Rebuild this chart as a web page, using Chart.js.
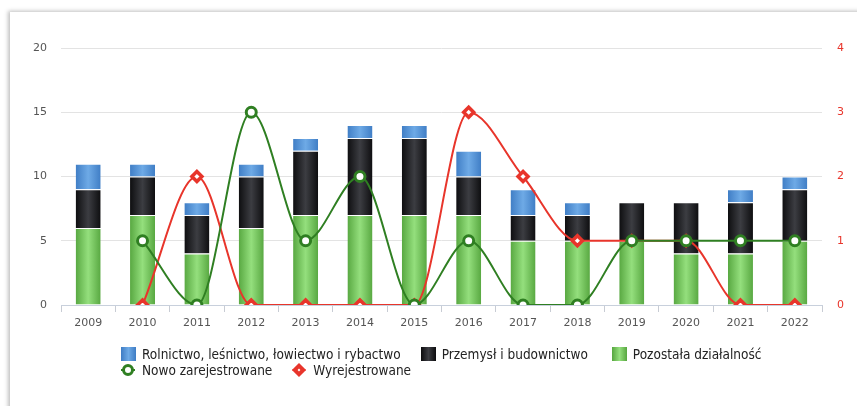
<!DOCTYPE html>
<html lang="pl">
<head>
<meta charset="utf-8">
<script src="https://cdn.jsdelivr.net/npm/chart.js@4.4.1/dist/chart.umd.min.js"></script>
<style>
    html, body { margin: 0; padding: 0; background: #fff; }
    #wrap { position: relative; width: 857px; height: 406px; overflow: hidden; }
    #card {
        position: absolute; left: 10px; top: 12px; width: 900px; height: 420px;
        background: #fff;
        box-shadow: -2px -1px 4px rgba(0,0,0,0.25);
    }
    #graph { position: absolute; left: 0; top: 0; }
    #legend {
        position: absolute; left: 121px; top: 346px;
        font-family: "DejaVu Sans Condensed", "DejaVu Sans", sans-serif;
        font-size: 13.5px; color: #222;
    }
    .row { display: flex; height: 16px; align-items: center; }
    .item { display: flex; align-items: center; }
    .box { width: 15px; height: 14px; margin-right: 6px; box-sizing: border-box; }
    .mk { width: 14px; height: 14px; margin-right: 7px; position: relative; }
    .mk .ln { position: absolute; left: 0; right: 0; top: 6px; height: 2px; }
    .mk .dot { position: absolute; box-sizing: border-box; background: #fff; }
</style>
</head>
<body>
<div id="wrap">
    <div id="card"></div>
    <canvas id="graph" width="857" height="406"></canvas>
    <div id="legend"></div>
</div>
<script>
const years = ['2009', '2010', '2011', '2012', '2013', '2014', '2015', '2016', '2017', '2018', '2019', '2020', '2021', '2022'];

// stacked bars (left axis)
const rolnictwo = [2, 1, 1, 1, 1, 1, 1, 2, 2, 1, 0, 0, 1, 1];
const przemysl = [3, 3, 3, 4, 5, 6, 6, 3, 2, 2, 3, 4, 4, 4];
const pozostala = [6, 7, 4, 6, 7, 7, 7, 7, 5, 5, 5, 4, 4, 5];

// lines (right axis)
const nowo = [null, 1, 0, 3, 1, 2, 0, 1, 0, 0, 1, 1, 1, 1];
const wyrejestrowane = [null, 0, 2, 0, 0, 0, 0, 3, 2, 1, 1, 1, 0, 0];

const leftTicks = [0, 5, 10, 15, 20];
const rightTicks = [0, 1, 2, 3, 4];

const GREEN_LINE = '#2f7f22';
const RED_LINE = '#e8352b';

function barGradient(edge, mid) {
    return (context) => {
        const chart = context.chart;
        const x = chart.scales.x;
        if (!chart.chartArea || !x || context.dataIndex === undefined) return mid;
        const cx = x.getPixelForValue(context.dataIndex);
        const g = chart.ctx.createLinearGradient(cx - 13, 0, cx + 13, 0);
        g.addColorStop(0, edge);
        g.addColorStop(0.5, mid);
        g.addColorStop(1, edge);
        return g;
    };
}

const ctx = document.getElementById('graph').getContext('2d');

const barCommon = {
    type: 'bar',
    yAxisID: 'y',
    stack: 'a',
    order: 2,
    barPercentage: 0.46,
    categoryPercentage: 1,
    borderColor: 'rgba(255,255,255,0.85)',
    borderWidth: { top: 1 },
    borderSkipped: 'bottom'
};

const chart = new Chart(ctx, {
    data: {
        labels: years,
        datasets: [
            Object.assign({}, barCommon, {
                label: 'Pozostała działalność',
                data: pozostala,
                backgroundColor: barGradient('#56a63f', '#94df7d')
            }),
            Object.assign({}, barCommon, {
                label: 'Przemysł i budownictwo',
                data: przemysl,
                backgroundColor: barGradient('#0c0c0e', '#3c3d42')
            }),
            Object.assign({}, barCommon, {
                label: 'Rolnictwo, leśnictwo, łowiectwo i rybactwo',
                data: rolnictwo,
                backgroundColor: barGradient('#3e7cc4', '#6eaae6')
            }),
            {
                type: 'line',
                label: 'Nowo zarejestrowane',
                data: nowo,
                yAxisID: 'y1',
                order: 0,
                borderColor: GREEN_LINE,
                borderWidth: 2,
                cubicInterpolationMode: 'monotone',
                pointStyle: 'circle',
                pointRadius: 5,
                pointBorderWidth: 3,
                pointBackgroundColor: '#fff',
                pointBorderColor: GREEN_LINE
            },
            {
                type: 'line',
                label: 'Wyrejestrowane',
                data: wyrejestrowane,
                yAxisID: 'y1',
                order: 1,
                borderColor: RED_LINE,
                borderWidth: 2,
                cubicInterpolationMode: 'monotone',
                pointStyle: 'rectRot',
                pointRadius: 5,
                pointBorderWidth: 3.5,
                pointBackgroundColor: '#fff',
                pointBorderColor: RED_LINE
            }
        ]
    },
    options: {
        responsive: false,
        animation: false,
        layout: { padding: { left: 0, right: 0, top: 48, bottom: 71 } },
        plugins: {
            legend: { display: false },
            tooltip: { enabled: false }
        },
        scales: {
            x: {
                stacked: true,
                afterFit: (s) => { s.height = 30; },
                grid: {
                    offset: true,
                    drawOnChartArea: false,
                    drawTicks: true,
                    tickLength: 7,
                    color: '#c8ccd4'
                },
                border: { display: true, color: '#c8d0dc' },
                ticks: {
                    padding: 5,
                    color: '#555',
                    font: { family: 'DejaVu Sans', size: 11 }
                }
            },
            y: {
                stacked: true,
                position: 'left',
                min: 0,
                max: 20,
                afterFit: (s) => { s.width = 61; },
                afterBuildTicks: (s) => { s.ticks = leftTicks.map(v => ({ value: v })); },
                grid: { color: '#e3e3e3', drawTicks: false },
                border: { display: false },
                ticks: {
                    padding: 14,
                    color: '#555',
                    font: { family: 'DejaVu Sans', size: 11 }
                }
            },
            y1: {
                position: 'right',
                min: 0,
                max: 4,
                afterFit: (s) => { s.width = 35; },
                afterBuildTicks: (s) => { s.ticks = rightTicks.map(v => ({ value: v })); },
                grid: { drawOnChartArea: false, drawTicks: false },
                border: { display: false },
                ticks: {
                    padding: 15,
                    color: RED_LINE,
                    font: { family: 'DejaVu Sans', size: 11 }
                }
            }
        }
    }
});

// legend rows, left aligned like the original
function addItem(row, label, marker, gap) {
    const item = document.createElement('span');
    item.className = 'item';
    item.style.marginRight = gap + 'px';
    item.appendChild(marker);
    const t = document.createElement('span');
    t.textContent = label;
    item.appendChild(t);
    row.appendChild(item);
}

function boxMarker(edge, mid) {
    const b = document.createElement('span');
    b.className = 'box';
    b.style.background = `linear-gradient(90deg, ${edge}, ${mid}, ${edge})`;
    return b;
}

function lineMarker(color, diamond) {
    const m = document.createElement('span');
    m.className = 'mk';
    const ln = document.createElement('span');
    ln.className = 'ln';
    ln.style.background = color;
    const d = document.createElement('span');
    d.className = 'dot';
    if (diamond) {
        Object.assign(d.style, { left: '2px', top: '2px', width: '10px', height: '10px', border: `4px solid ${color}`, transform: 'rotate(45deg)' });
    } else {
        Object.assign(d.style, { left: '1px', top: '1px', width: '12px', height: '12px', border: `3px solid ${color}`, borderRadius: '50%' });
    }
    m.appendChild(ln);
    m.appendChild(d);
    return m;
}

const legend = document.getElementById('legend');
const row1 = document.createElement('div');
row1.className = 'row';
const row2 = document.createElement('div');
row2.className = 'row';
legend.appendChild(row1);
legend.appendChild(row2);

addItem(row1, chart.data.datasets[2].label, boxMarker('#3e7cc4', '#6eaae6'), 20);
addItem(row1, chart.data.datasets[1].label, boxMarker('#0c0c0e', '#3c3d42'), 24);
addItem(row1, chart.data.datasets[0].label, boxMarker('#56a63f', '#94df7d'), 0);
addItem(row2, chart.data.datasets[3].label, lineMarker(GREEN_LINE, false), 20);
addItem(row2, chart.data.datasets[4].label, lineMarker(RED_LINE, true), 0);
</script>
</body>
</html>
